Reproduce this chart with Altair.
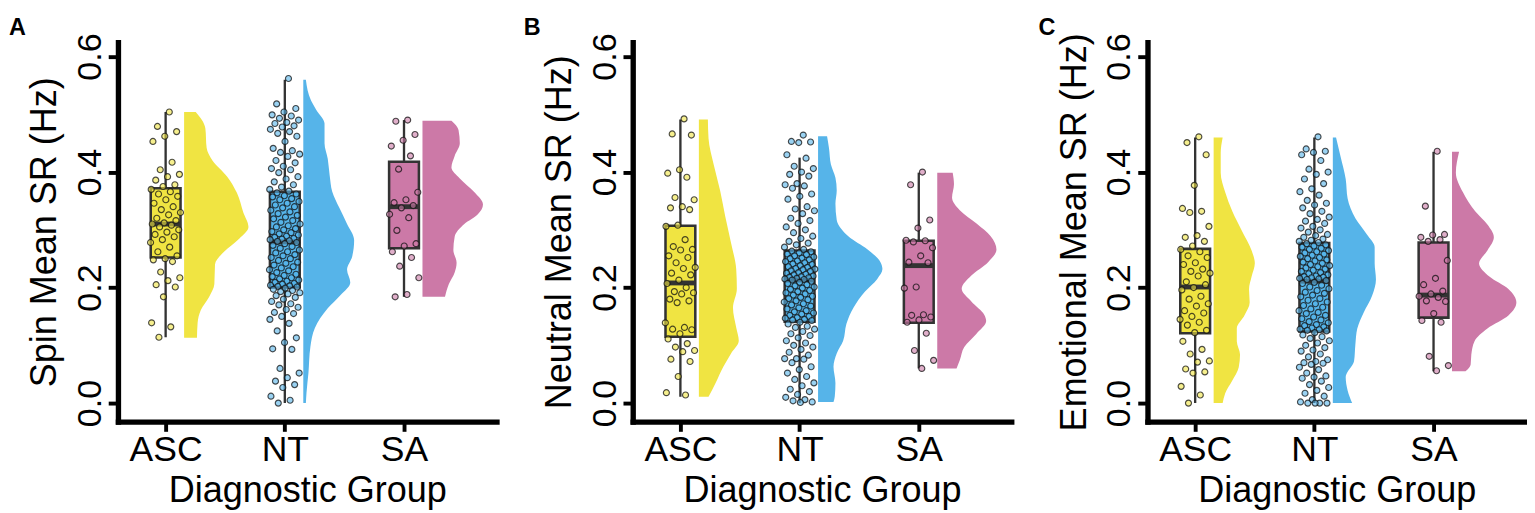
import altair as alt
import pandas as pd

FONT = "Liberation Sans"
GROUPS = ["ASC", "NT", "SA"]
COLORS = ["#F0E442", "#56B4E9", "#CC79A7"]
PANELS = ["A", "B", "C"]
Y_TITLES = ["Spin Mean SR (Hz)", "Neutral Mean SR (Hz)", "Emotional Mean SR (Hz)"]
X_TITLE = "Diagnostic Group"

A_ASC = [0.504, 0.479, 0.470, 0.462, 0.453, 0.417, 0.404, 0.396, 0.392, 0.386, 0.378, 0.375,
         0.370, 0.366, 0.362, 0.358, 0.352, 0.346, 0.340, 0.335, 0.330, 0.326, 0.320, 0.316,
         0.312, 0.310, 0.308, 0.305, 0.300, 0.296, 0.292, 0.288, 0.283, 0.278, 0.270, 0.262,
         0.255, 0.250, 0.248, 0.245, 0.227, 0.217, 0.212, 0.205, 0.201, 0.184, 0.139, 0.132, 0.114]
A_NT = [0.562, 0.518, 0.510, 0.504, 0.499, 0.497, 0.493, 0.490, 0.486, 0.484, 0.480, 0.478,
        0.474, 0.470, 0.467, 0.462, 0.453, 0.441, 0.437, 0.434, 0.431, 0.427, 0.420, 0.416,
        0.410, 0.406, 0.404, 0.399, 0.392, 0.388, 0.383, 0.378, 0.374, 0.370, 0.367,
        0.364, 0.362, 0.359, 0.357, 0.354, 0.352, 0.349, 0.346, 0.343, 0.340, 0.338, 0.334,
        0.331, 0.328, 0.325, 0.322, 0.319, 0.316, 0.313, 0.310, 0.307, 0.305, 0.302, 0.300,
        0.297, 0.295, 0.293, 0.291, 0.289, 0.287, 0.285, 0.284, 0.283, 0.281, 0.280,
        0.278, 0.276, 0.273, 0.271, 0.268, 0.265, 0.262, 0.260, 0.257, 0.255, 0.252, 0.250,
        0.247, 0.244, 0.242, 0.239, 0.236, 0.234, 0.231, 0.229, 0.226, 0.223, 0.221, 0.219,
        0.217, 0.215, 0.213, 0.211, 0.209, 0.207, 0.206, 0.204, 0.203, 0.202, 0.201,
        0.199, 0.197, 0.195, 0.193, 0.191, 0.189, 0.186, 0.183, 0.180, 0.176, 0.172, 0.170,
        0.166, 0.162, 0.157, 0.155, 0.150, 0.145, 0.138, 0.125, 0.113, 0.105, 0.094, 0.093,
        0.060, 0.052, 0.044, 0.038, 0.032, 0.027, 0.012, 0.005, 0.000]
A_SA = [0.490, 0.488, 0.465, 0.455, 0.445, 0.428, 0.405, 0.365, 0.352, 0.347, 0.342, 0.338,
        0.327, 0.321, 0.299, 0.276, 0.272, 0.262, 0.252, 0.237, 0.217, 0.188, 0.184]

B_ASC = [0.492, 0.466, 0.464, 0.404, 0.398, 0.391, 0.356, 0.352, 0.340, 0.338, 0.335, 0.308,
         0.306, 0.283, 0.271, 0.266, 0.265, 0.255, 0.252, 0.243, 0.235, 0.233, 0.225, 0.222,
         0.213, 0.207, 0.200, 0.193, 0.191, 0.189, 0.180, 0.177, 0.174, 0.139, 0.131, 0.128,
         0.127, 0.120, 0.111, 0.103, 0.097, 0.091, 0.089, 0.076, 0.072, 0.046, 0.018, 0.014]
B_NT = [0.464, 0.453, 0.452, 0.451, 0.430, 0.424, 0.410, 0.406, 0.400, 0.396, 0.393, 0.380,
        0.378, 0.376, 0.372, 0.362, 0.358, 0.353, 0.340, 0.336, 0.333, 0.328, 0.320, 0.316,
        0.311, 0.305, 0.300, 0.295, 0.289, 0.285, 0.280, 0.277, 0.274, 0.270, 0.266,
        0.263, 0.262, 0.260, 0.258, 0.257, 0.255, 0.253, 0.251, 0.250, 0.248, 0.246, 0.245,
        0.243, 0.241, 0.240, 0.238, 0.236, 0.235, 0.233, 0.232, 0.231, 0.229, 0.228, 0.226,
        0.225, 0.223, 0.222, 0.220, 0.219, 0.218, 0.217, 0.216, 0.215, 0.214, 0.213,
        0.211, 0.209, 0.207, 0.205, 0.203, 0.201, 0.199, 0.197, 0.195, 0.193, 0.191, 0.189,
        0.187, 0.185, 0.183, 0.181, 0.179, 0.177, 0.175, 0.172, 0.170, 0.168, 0.165, 0.163,
        0.160, 0.158, 0.156, 0.154, 0.152, 0.150, 0.148, 0.147, 0.145, 0.144, 0.143,
        0.140, 0.137, 0.133, 0.131, 0.128, 0.124, 0.120, 0.117, 0.113, 0.108, 0.104, 0.100,
        0.097, 0.093, 0.088, 0.083, 0.077, 0.077, 0.076, 0.070, 0.063, 0.058, 0.052, 0.046,
        0.041, 0.035, 0.030, 0.024, 0.020, 0.015, 0.010, 0.006, 0.004, 0.002, 0.001]
B_SA = [0.400, 0.378, 0.317, 0.303, 0.282, 0.281, 0.279, 0.269, 0.255, 0.244, 0.243, 0.201,
        0.199, 0.153, 0.152, 0.149, 0.144, 0.140, 0.121, 0.091, 0.074, 0.060]

C_ASC = [0.461, 0.451, 0.430, 0.377, 0.337, 0.332, 0.330, 0.306, 0.290, 0.287, 0.280, 0.272,
         0.266, 0.262, 0.255, 0.252, 0.243, 0.240, 0.232, 0.228, 0.225, 0.220, 0.210, 0.205,
         0.200, 0.196, 0.185, 0.180, 0.172, 0.168, 0.160, 0.156, 0.150, 0.145, 0.140, 0.135,
         0.126, 0.122, 0.107, 0.093, 0.085, 0.073, 0.071, 0.059, 0.054, 0.052, 0.029, 0.014, 0.000]
C_NT = [0.461, 0.440, 0.436, 0.434, 0.430, 0.420, 0.405, 0.400, 0.396, 0.388, 0.380, 0.371,
        0.366, 0.360, 0.351, 0.346, 0.343, 0.338, 0.332, 0.328, 0.322, 0.318, 0.315, 0.311,
        0.306, 0.303, 0.300, 0.296, 0.292, 0.290, 0.287, 0.284, 0.282, 0.280, 0.278,
        0.276, 0.274, 0.272, 0.270, 0.268, 0.266, 0.264, 0.262, 0.260, 0.258, 0.256, 0.254,
        0.252, 0.250, 0.248, 0.246, 0.244, 0.242, 0.240, 0.238, 0.236, 0.234, 0.232, 0.230,
        0.228, 0.226, 0.224, 0.222, 0.220, 0.219, 0.218, 0.217, 0.216, 0.215, 0.214,
        0.212, 0.209, 0.207, 0.204, 0.201, 0.198, 0.195, 0.192, 0.190, 0.187, 0.184, 0.181,
        0.178, 0.175, 0.172, 0.169, 0.166, 0.163, 0.160, 0.157, 0.155, 0.152, 0.149, 0.146,
        0.144, 0.141, 0.139, 0.136, 0.134, 0.132, 0.130, 0.128, 0.127, 0.126, 0.125,
        0.122, 0.118, 0.115, 0.112, 0.108, 0.104, 0.100, 0.096, 0.092, 0.090, 0.085, 0.080,
        0.075, 0.072, 0.070, 0.069, 0.067, 0.062, 0.058, 0.052, 0.047, 0.045, 0.043, 0.038,
        0.032, 0.027, 0.022, 0.017, 0.012, 0.006, 0.002, 0.000, 0.000, 0.000, 0.000]
C_SA = [0.436, 0.341, 0.292, 0.291, 0.287, 0.283, 0.280, 0.247, 0.216, 0.205, 0.194, 0.189,
        0.185, 0.183, 0.177, 0.176, 0.155, 0.143, 0.140, 0.081, 0.065, 0.056]

POINTS = {"A": [A_ASC, A_NT, A_SA], "B": [B_ASC, B_NT, B_SA], "C": [C_ASC, C_NT, C_SA]}

BOX_LO = {"A": [0.114, 0.000, 0.184], "B": [0.011, 0.000, 0.060], "C": [0.000, 0.000, 0.055]}
BOX_Q1 = {"A": [0.252, 0.200, 0.268], "B": [0.115, 0.141, 0.139], "C": [0.121, 0.124, 0.148]}
BOX_MED = {"A": [0.310, 0.279, 0.340], "B": [0.208, 0.213, 0.238], "C": [0.201, 0.211, 0.187]}
BOX_Q3 = {"A": [0.372, 0.366, 0.418], "B": [0.307, 0.264, 0.281], "C": [0.267, 0.277, 0.278]}
BOX_HI = {"A": [0.504, 0.560, 0.490], "B": [0.491, 0.425, 0.399], "C": [0.460, 0.460, 0.435]}

VIO_Y = {
    "A": [[0.504, 0.476, 0.442, 0.420, 0.392, 0.364, 0.330, 0.305, 0.285, 0.262, 0.240, 0.206, 0.184, 0.161, 0.139, 0.113],
          [0.560, 0.524, 0.508, 0.484, 0.450, 0.423, 0.394, 0.366, 0.338, 0.310, 0.282, 0.254, 0.231, 0.209, 0.187, 0.164, 0.130, 0.097, 0.052, 0.018, 0.000],
          [0.489, 0.473, 0.450, 0.428, 0.408, 0.389, 0.366, 0.344, 0.327, 0.310, 0.288, 0.265, 0.243, 0.226, 0.206, 0.184]],
    "B": [[0.491, 0.458, 0.413, 0.368, 0.323, 0.277, 0.232, 0.198, 0.165, 0.131, 0.108, 0.086, 0.063, 0.035, 0.011],
          [0.462, 0.441, 0.413, 0.390, 0.368, 0.345, 0.317, 0.289, 0.266, 0.244, 0.232, 0.215, 0.193, 0.165, 0.137, 0.108, 0.086, 0.063, 0.035, 0.012, 0.002],
          [0.399, 0.379, 0.356, 0.334, 0.311, 0.289, 0.266, 0.244, 0.221, 0.198, 0.176, 0.153, 0.142, 0.120, 0.097, 0.074, 0.060]],
    "C": [[0.460, 0.433, 0.399, 0.365, 0.332, 0.298, 0.264, 0.242, 0.219, 0.197, 0.174, 0.152, 0.129, 0.107, 0.084, 0.062, 0.039, 0.017, 0.000],
          [0.460, 0.427, 0.388, 0.354, 0.320, 0.292, 0.270, 0.242, 0.214, 0.186, 0.157, 0.129, 0.101, 0.073, 0.045, 0.022, 0.000],
          [0.435, 0.399, 0.365, 0.332, 0.309, 0.287, 0.264, 0.242, 0.219, 0.197, 0.174, 0.152, 0.129, 0.107, 0.084, 0.067, 0.055]],
}
VIO_D = {
    "A": [[0.18, 0.33, 0.35, 0.44, 0.67, 0.82, 0.92, 1.00, 0.86, 0.62, 0.48, 0.47, 0.39, 0.26, 0.21, 0.20],
          [0.04, 0.12, 0.20, 0.33, 0.33, 0.38, 0.41, 0.45, 0.56, 0.68, 0.79, 0.76, 0.68, 0.73, 0.58, 0.38, 0.18, 0.11, 0.08, 0.05, 0.04],
          [0.45, 0.56, 0.58, 0.50, 0.45, 0.58, 0.80, 0.94, 0.86, 0.65, 0.50, 0.48, 0.53, 0.50, 0.41, 0.35]],
    "B": [[0.14, 0.15, 0.23, 0.33, 0.41, 0.50, 0.58, 0.59, 0.53, 0.58, 0.62, 0.50, 0.38, 0.26, 0.15],
          [0.14, 0.17, 0.20, 0.27, 0.29, 0.27, 0.29, 0.47, 0.77, 0.97, 1.00, 0.92, 0.73, 0.55, 0.44, 0.39, 0.29, 0.24, 0.27, 0.26, 0.24],
          [0.24, 0.26, 0.23, 0.35, 0.61, 0.83, 0.92, 0.79, 0.53, 0.38, 0.53, 0.73, 0.76, 0.61, 0.42, 0.35, 0.30]],
    "C": [[0.14, 0.11, 0.11, 0.18, 0.29, 0.44, 0.59, 0.64, 0.59, 0.55, 0.56, 0.48, 0.36, 0.36, 0.41, 0.39, 0.29, 0.18, 0.14],
          [0.05, 0.12, 0.20, 0.23, 0.35, 0.53, 0.65, 0.65, 0.67, 0.61, 0.48, 0.38, 0.35, 0.33, 0.20, 0.23, 0.30],
          [0.11, 0.06, 0.17, 0.36, 0.55, 0.65, 0.55, 0.42, 0.58, 0.88, 1.00, 0.88, 0.55, 0.35, 0.30, 0.29, 0.21]],
}

pt_rows, box_rows, vio_rows = [], [], []
for p in PANELS:
    for gi, g in enumerate(GROUPS):
        for v in POINTS[p][gi]:
            pt_rows.append({"panel": p, "group": g, "pos": gi + 1, "value": v})
        box_rows.append({"panel": p, "group": g, "pos": gi + 1, "lo": BOX_LO[p][gi], "q1": BOX_Q1[p][gi],
                         "med": BOX_MED[p][gi], "q3": BOX_Q3[p][gi], "hi": BOX_HI[p][gi]})
        for yv, dv in zip(VIO_Y[p][gi], VIO_D[p][gi]):
            vio_rows.append({"panel": p, "group": g, "pos": gi + 1, "vy": yv, "dens": dv})
pts = pd.DataFrame(pt_rows)
boxes = pd.DataFrame(box_rows)
vios = pd.DataFrame(vio_rows)

BOX_HALF = 0.125
VIO_NUDGE = 0.155
VIO_MAX = 0.54
JITTER = 0.26

XS = alt.Scale(domain=[0.6, 3.776], nice=False, zero=False)
YS = alt.Scale(domain=[-0.032, 0.625], nice=False, zero=False)
fill_scale = alt.Scale(domain=GROUPS, range=COLORS)

label_expr = " : ".join(f"datum.value == {i + 1} ? '{g}'" for i, g in enumerate(GROUPS[:-1])) + f" : '{GROUPS[-1]}'"

XA = alt.Axis(values=[1, 2, 3], labelExpr=label_expr, grid=False, labelFontSize=36.5, labelFont=FONT,
              labelColor="black", labelPadding=1.5, labelFlush=False, labelOverlap=False,
              tickSize=10, tickWidth=4, tickColor="black", domainWidth=5.5, domainColor="black",
              domainCap="square", titleFontSize=37, titleFont=FONT, titleFontWeight="normal",
              titleColor="black", titlePadding=5)


def y_axis():
    return alt.Axis(values=[0, 0.2, 0.4, 0.6], format=".1f", grid=False, labelAngle=270,
                    labelAlign="center", labelBaseline="alphabetic", labelFontSize=35, labelFont=FONT,
                    labelColor="black", labelPadding=8, labelFlush=False, labelOverlap=False,
                    tickSize=10, tickWidth=4, tickColor="black", domainWidth=5.5, domainColor="black",
                    domainCap="square", titleFontSize=37, titleFont=FONT, titleFontWeight="normal",
                    titleColor="black", titlePadding=10)


def panel(idx):
    p = PANELS[idx]
    ytitle = Y_TITLES[idx]
    YA = y_axis()

    violin = alt.Chart(vios[vios.panel == p]).transform_calculate(
        vx0=f"datum.pos + {VIO_NUDGE}",
        vx1=f"datum.pos + {VIO_NUDGE} + datum.dens * {VIO_MAX}",
    ).mark_area(orient="horizontal", interpolate="monotone").encode(
        y=alt.Y("vy:Q", scale=YS, axis=YA, title=ytitle),
        x=alt.X("vx0:Q", scale=XS, axis=XA, title=X_TITLE),
        x2="vx1:Q",
        fill=alt.Fill("group:N", scale=fill_scale, legend=None),
    )

    bdata = alt.Chart(boxes[boxes.panel == p]).transform_calculate(
        bx0=f"datum.pos - {BOX_HALF}", bx1=f"datum.pos + {BOX_HALF}")

    whisk = bdata.mark_rule(color="#333333", strokeWidth=2.4).encode(
        x=alt.X("pos:Q", scale=XS, axis=XA, title=X_TITLE),
        y=alt.Y("lo:Q", scale=YS, axis=YA, title=ytitle),
        y2="hi:Q",
    )
    box = bdata.mark_bar(stroke="#333333", strokeWidth=2.6, opacity=1).encode(
        x=alt.X("bx0:Q", scale=XS, axis=XA, title=X_TITLE),
        x2="bx1:Q",
        y=alt.Y("q1:Q", scale=YS, axis=YA, title=ytitle),
        y2="q3:Q",
        fill=alt.Fill("group:N", scale=fill_scale, legend=None),
    )
    med = bdata.mark_rule(color="#333333", strokeWidth=5).encode(
        x=alt.X("bx0:Q", scale=XS, axis=XA, title=X_TITLE),
        x2="bx1:Q",
        y=alt.Y("med:Q", scale=YS, axis=YA, title=ytitle),
    )

    points = alt.Chart(pts[pts.panel == p]).transform_window(
        rn="row_number()", groupby=["group"]
    ).transform_calculate(
        jx=f"datum.pos + ((datum.rn * 0.6180339887) % 1 - 0.5) * {JITTER}"
    ).mark_point(shape="circle", filled=True, size=38, fillOpacity=0.6, stroke="#111111",
                 strokeOpacity=0.75, strokeWidth=1.2).encode(
        x=alt.X("jx:Q", scale=XS, axis=XA, title=X_TITLE),
        y=alt.Y("value:Q", scale=YS, axis=YA, title=ytitle),
        fill=alt.Fill("group:N", scale=fill_scale, legend=None),
    )

    return alt.layer(violin, whisk, box, med, points).properties(
        width=389, height=390,
        title=alt.TitleParams(p, anchor="start", frame="group", dx=-112, dy=7, offset=0,
                              fontSize=24, fontWeight="bold", font=FONT, color="black"),
    )


chart = alt.hconcat(panel(0), panel(1), panel(2), spacing=26).properties(
    padding=0, background="white"
).configure_view(stroke="transparent")

chart.save("out.html", embed_options={"renderer": "svg", "actions": False})
